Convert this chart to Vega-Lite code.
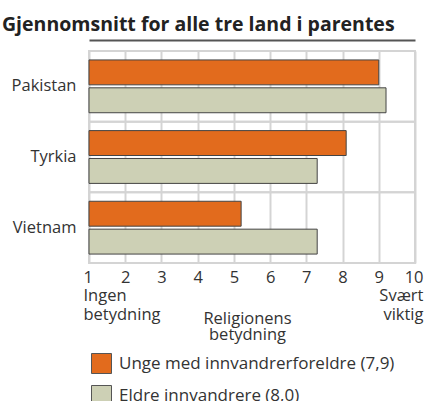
{
  "$schema": "https://vega.github.io/schema/vega-lite/v6.json",
  "autosize": {"type": "none"},
  "padding": {"left": 89, "top": 51, "right": 12, "bottom": 138},
  "width": 326,
  "height": 212,
  "background": "white",
  "title": {
    "text": "Gjennomsnitt for alle tre land i parentes",
    "anchor": "start",
    "frame": "group",
    "dx": -87,
    "offset": 5,
    "font": "Open Sans",
    "fontSize": 19.5,
    "fontWeight": "bold",
    "color": "#222222"
  },
  "config": {
    "view": {"stroke": "#d4d4d4", "strokeWidth": 2},
    "font": "Open Sans"
  },
  "data": {
    "values": [
      {"land": "Pakistan", "gruppe": "Unge med innvandrerforeldre (7,9)", "verdi": 9.0},
      {"land": "Pakistan", "gruppe": "Eldre innvandrere (8,0)", "verdi": 9.2},
      {"land": "Tyrkia", "gruppe": "Unge med innvandrerforeldre (7,9)", "verdi": 8.1},
      {"land": "Tyrkia", "gruppe": "Eldre innvandrere (8,0)", "verdi": 7.3},
      {"land": "Vietnam", "gruppe": "Unge med innvandrerforeldre (7,9)", "verdi": 5.2},
      {"land": "Vietnam", "gruppe": "Eldre innvandrere (8,0)", "verdi": 7.3}
    ]
  },
  "resolve": {"axis": {"x": "independent"}},
  "layer": [
    {
      "mark": {"type": "rule", "color": "#d4d4d4", "strokeWidth": 2},
      "encoding": {
        "y": {"field": "land", "type": "nominal", "bandPosition": 0, "sort": ["Pakistan", "Tyrkia", "Vietnam"]},
        "x": {"datum": 1, "type": "quantitative", "scale": {"domain": [1, 10], "zero": false, "nice": false},
          "axis": {"orient": "top", "offset": 11, "labels": false, "ticks": false, "grid": false, "title": null, "domainColor": "#555555", "domainWidth": 2}},
        "x2": {"datum": 10}
      }
    },
    {
      "mark": {"type": "bar", "stroke": "#444444", "strokeWidth": 1},
      "encoding": {
        "y": {
          "field": "land", "type": "nominal",
          "sort": ["Pakistan", "Tyrkia", "Vietnam"],
          "scale": {"paddingInner": 0, "paddingOuter": 0},
          "axis": {"title": null, "ticks": false, "domain": false, "labelPadding": 13, "labelFontSize": 16.5, "labelColor": "#333333", "labelFont": "Open Sans"}
        },
        "yOffset": {
          "field": "gruppe", "type": "nominal",
          "sort": ["Unge med innvandrerforeldre (7,9)", "Eldre innvandrere (8,0)"],
          "scale": {"paddingInner": 0.107, "paddingOuter": 0.32}
        },
        "x": {
          "field": "verdi", "type": "quantitative",
          "scale": {"domain": [1, 10], "zero": false, "nice": false},
          "axis": {
            "orient": "bottom",
            "values": [1, 2, 3, 4, 5, 6, 7, 8, 9, 10],
            "grid": true, "gridColor": "#d4d4d4", "gridWidth": 2,
            "domain": false, "ticks": false,
            "labelFlush": false, "labelOverlap": false, "labelBound": false,
            "labelFontSize": 16.5, "labelColor": "#333333", "labelFont": "Open Sans",
            "labelPadding": 6, "labelLineHeight": 18.5, "labelBaseline": "top",
            "labelExpr": "datum.value == 1 ? ['1', 'Ingen', 'betydning'] : datum.value == 10 ? ['10', 'Svært', 'viktig'] : datum.label",
            "labelAlign": {"condition": [{"test": "datum.value == 1", "value": "left"}, {"test": "datum.value == 10", "value": "right"}], "value": "center"},
            "labelOffset": {"condition": [{"test": "datum.value == 1", "value": -6}, {"test": "datum.value == 10", "value": 8}], "value": 0},
            "title": ["Religionens", "betydning"],
            "titleFontSize": 16.5, "titleFontWeight": "normal", "titleColor": "#333333", "titleFont": "Open Sans",
            "titleLineHeight": 16.5, "titleBaseline": "top", "titleAlign": "center",
            "titleX": 158, "titleY": 47
          }
        },
        "x2": {"datum": 1},
        "color": {
          "field": "gruppe", "type": "nominal",
          "scale": {"domain": ["Unge med innvandrerforeldre (7,9)", "Eldre innvandrere (8,0)"], "range": ["#e26b1d", "#cdd0b5"]},
          "legend": {
            "title": null, "orient": "none", "legendX": 2, "legendY": 302, "direction": "vertical",
            "padding": 0, "symbolType": "square", "symbolSize": 400, "symbolStrokeColor": "#555555", "symbolStrokeWidth": 1,
            "labelFontSize": 17, "labelColor": "#333333", "labelFont": "Open Sans", "labelOffset": 7, "rowPadding": 7, "labelLimit": 400
          }
        }
      }
    }
  ]
}
